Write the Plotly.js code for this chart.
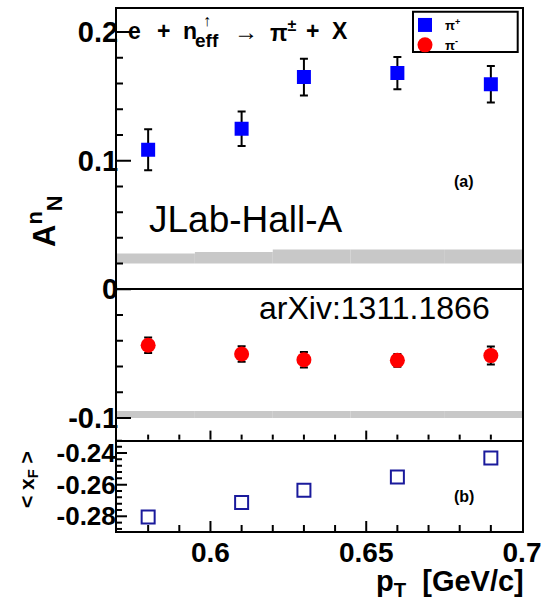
<!DOCTYPE html>
<html>
<head>
<meta charset="utf-8">
<script src="https://cdn.plot.ly/plotly-3.0.1.min.js"></script>
<style>html,body{margin:0;padding:0;background:#fff;}#chart{width:554px;height:603px;}</style>
</head>
<body>
<div id="chart"></div>
<script>
// ---- data ----
const pT = [0.58, 0.61, 0.63, 0.66, 0.69];
const ANpiPlus = [0.1085, 0.1249, 0.165, 0.1681, 0.1594];
const ANpiPlusErr = [0.016, 0.0134, 0.0143, 0.0125, 0.0142];
const ANpiMinus = [-0.0435, -0.0503, -0.0547, -0.0552, -0.0515];
const ANpiMinusErr = [0.006, 0.006, 0.006, 0.005, 0.007];
const xFmean = [-0.2804, -0.2712, -0.2636, -0.2552, -0.2432];
const sysEdges = [0.57, 0.595, 0.62, 0.645, 0.675, 0.70];
const sysPlusBase = 0.02;
const sysPlus = [0.0078, 0.009, 0.011, 0.011, 0.011];
const sysMinusBase = -0.1;
const sysMinus = [0.0055, 0.0055, 0.0055, 0.0055, 0.0055];
const xTickVals = [0.6, 0.65, 0.7];
const xTickText = ['0.6', '0.65', '0.7'];
const yTopTickVals = [-0.1, 0, 0.1, 0.2];
const yTopTickText = ['-0.1', '0', '0.1', '0.2'];
const yBotTickVals = [-0.28, -0.26, -0.24];
const yBotTickText = ['-0.28', '-0.26', '-0.24'];

// ---- layout helpers (pixel -> paper) ----
const L = 117, R = 32, T = 9, B = 72, W = 554, H = 603;
const pw = W - L - R, ph = H - T - B;
const px = v => (v - L) / pw;
const py = v => (H - B - v) / ph;

const FONT = 'Liberation Sans, Arial, Helvetica, sans-serif';
const X_RANGE = [0.57, 0.70];
const Y_TOP_RANGE = [-0.1168, 0.2179];
const Y_BOT_RANGE = [-0.2893, -0.2315];

const binCenters = sysEdges.slice(0, -1).map((e, i) => (e + sysEdges[i + 1]) / 2);
const binWidths = sysEdges.slice(0, -1).map((e, i) => sysEdges[i + 1] - e);

const traces = [
  { type: 'bar', x: binCenters, y: sysPlus, base: sysPlusBase, width: binWidths,
    xaxis: 'x2', yaxis: 'y2', marker: { color: '#c8c8c8', line: { width: 0 } },
    showlegend: false, hoverinfo: 'skip' },
  { type: 'bar', x: binCenters, y: sysMinus, base: sysMinusBase, width: binWidths,
    xaxis: 'x2', yaxis: 'y2', marker: { color: '#c8c8c8', line: { width: 0 } },
    showlegend: false, hoverinfo: 'skip' },
  { type: 'scatter', mode: 'markers', name: 'π<sup>+</sup>', x: pT, y: ANpiPlus,
    xaxis: 'x2', yaxis: 'y2',
    error_y: { type: 'data', array: ANpiPlusErr, visible: true, color: '#000', thickness: 2, width: 4 },
    marker: { symbol: 'square', size: 14, color: '#0000ff' } },
  { type: 'scatter', mode: 'markers', name: 'π<sup>-</sup>', x: pT, y: ANpiMinus,
    xaxis: 'x2', yaxis: 'y2',
    error_y: { type: 'data', array: ANpiMinusErr, visible: true, color: '#000', thickness: 2, width: 4 },
    marker: { symbol: 'circle', size: 15, color: '#ff0000' } },
  { type: 'scatter', mode: 'markers', x: pT, y: xFmean, xaxis: 'x', yaxis: 'y',
    marker: { symbol: 'square-open', size: 13, color: '#1a1a9c', line: { width: 2, color: '#1a1a9c' } },
    showlegend: false }
];

// ---- tick marks (drawn as pixel-length shapes anchored to the axes) ----
function stepValues(lo, hi, step, skip) {
  const out = [];
  const n0 = Math.ceil(lo / step - 1e-6), n1 = Math.floor(hi / step + 1e-6);
  for (let n = n0; n <= n1; n++) {
    const v = +(n * step).toFixed(6);
    if (v <= lo + 1e-9 || v >= hi - 1e-9) continue;
    if (skip.some(s => Math.abs(s - v) < 1e-6)) continue;
    out.push(v);
  }
  return out;
}
const tickShapes = [];
function xTicks(xref, yref, vals, len) {
  vals.forEach(v => tickShapes.push({ type: 'line', xref: xref, yref: yref + ' domain',
    ysizemode: 'pixel', yanchor: 0, x0: v, x1: v, y0: 0, y1: len,
    line: { color: '#000', width: 2 } }));
}
function yTicks(xref, yref, vals, len) {
  vals.forEach(v => tickShapes.push({ type: 'line', xref: xref + ' domain', yref: yref,
    xsizemode: 'pixel', xanchor: 0, x0: 0, x1: len, y0: v, y1: v,
    line: { color: '#000', width: 2 } }));
}
const xMajor = xTickVals.filter(v => v > X_RANGE[0] && v < X_RANGE[1]);
const xMinor = stepValues(X_RANGE[0], X_RANGE[1], 0.01, xTickVals);
xTicks('x', 'y', xMajor, 10);  xTicks('x', 'y', xMinor, 6);
xTicks('x2', 'y2', xMajor, 9); xTicks('x2', 'y2', xMinor, 5);
yTicks('x2', 'y2', yTopTickVals, 14);
yTicks('x2', 'y2', stepValues(Y_TOP_RANGE[0], Y_TOP_RANGE[1], 0.02, yTopTickVals), 6);
yTicks('x', 'y', yBotTickVals, 10);
yTicks('x', 'y', stepValues(Y_BOT_RANGE[0], Y_BOT_RANGE[1], 0.004, yBotTickVals), 5);

const ann = (x, y, text, size, opts) => Object.assign({
  xref: 'paper', yref: 'paper', x: px(x), y: py(y), xanchor: 'left', yanchor: 'middle',
  showarrow: false, text: text, font: { family: FONT, size: size, weight: 'bold', color: '#000' }
}, opts || {});

const frame = { showline: true, linecolor: '#000', linewidth: 2, showgrid: false, zeroline: false, ticks: '' };

const layout = {
  width: W, height: H,
  margin: { l: L, r: R, t: T, b: B, pad: 0 },
  paper_bgcolor: '#fff', plot_bgcolor: '#fff',
  font: { family: FONT, color: '#000' },
  barmode: 'overlay',
  showlegend: true,
  legend: { x: px(405), y: py(10), xanchor: 'left', yanchor: 'top',
    bgcolor: 'rgba(0,0,0,0)', borderwidth: 0, itemwidth: 30,
    font: { family: FONT, size: 13, color: '#000', weight: 'bold' }, tracegroupgap: 0 },
  xaxis: Object.assign({}, frame, {
    domain: [0, 1], anchor: 'y', range: X_RANGE, mirror: false,
    tickmode: 'array', tickvals: xTickVals, ticktext: xTickText, ticklabelstandoff: -5,
    tickfont: { family: FONT, size: 28, weight: 'bold', color: '#000' }
  }),
  xaxis2: Object.assign({}, frame, {
    domain: [0, 1], anchor: 'y2', range: X_RANGE, mirror: true, showticklabels: false
  }),
  yaxis: Object.assign({}, frame, {
    domain: [0, 91.4 / ph], anchor: 'x', range: Y_BOT_RANGE, mirror: true,
    tickmode: 'array', tickvals: yBotTickVals, ticktext: yBotTickText, ticklabelstandoff: -6,
    tickfont: { family: FONT, size: 26, weight: 'bold', color: '#000' }
  }),
  yaxis2: Object.assign({}, frame, {
    domain: [91.4 / ph, 1], anchor: 'x2', range: Y_TOP_RANGE, mirror: true,
    tickmode: 'array', tickvals: yTopTickVals, ticktext: yTopTickText, ticklabelstandoff: -9,
    zeroline: true, zerolinecolor: '#000', zerolinewidth: 2,
    tickfont: { family: FONT, size: 29, weight: 'bold', color: '#000' }
  }),
  shapes: tickShapes.concat([
    { type: 'rect', xref: 'paper', yref: 'paper', x0: px(413), x1: px(517.7), y0: py(52), y1: py(11.7),
      line: { color: '#000', width: 2 }, fillcolor: 'rgba(0,0,0,0)' }
  ]),
  annotations: [
    ann(126, 31, 'e', 23),
    ann(163, 31, '+', 23, { xanchor: 'center' }),
    ann(181, 31, 'n', 23),
    ann(193, 41, 'eff', 19),
    ann(207, 21, '↑', 16, { xanchor: 'center' }),
    ann(246, 31, '→', 24, { xanchor: 'center' }),
    ann(268, 31, 'π<sup>±</sup>', 23),
    ann(312, 31, '+', 23, { xanchor: 'center' }),
    ann(330, 31, 'X', 23),
    ann(464, 181, '(a)', 16, { xanchor: 'center' }),
    ann(464, 496, '(b)', 16, { xanchor: 'center' }),
    ann(147, 220, 'JLab-Hall-A', 37, { font: { family: FONT, size: 37, color: '#000' } }),
    ann(492, 308, 'arXiv:1311.1866', 32, { xanchor: 'right', font: { family: FONT, size: 32, color: '#000' } }),
    ann(44, 222, 'A<sup>n</sup><sub>N</sub>', 31, { xanchor: 'center', textangle: -90 }),
    ann(28, 480, '< x<sub>F</sub> >', 21, { xanchor: 'center', textangle: -90 }),
    ann(526, 583, 'p<sub>T</sub>  [GeV/c]', 29, { xanchor: 'right' })
  ]
};

Plotly.newPlot('chart', traces, layout, { staticPlot: true, displayModeBar: false });
</script>
</body>
</html>
